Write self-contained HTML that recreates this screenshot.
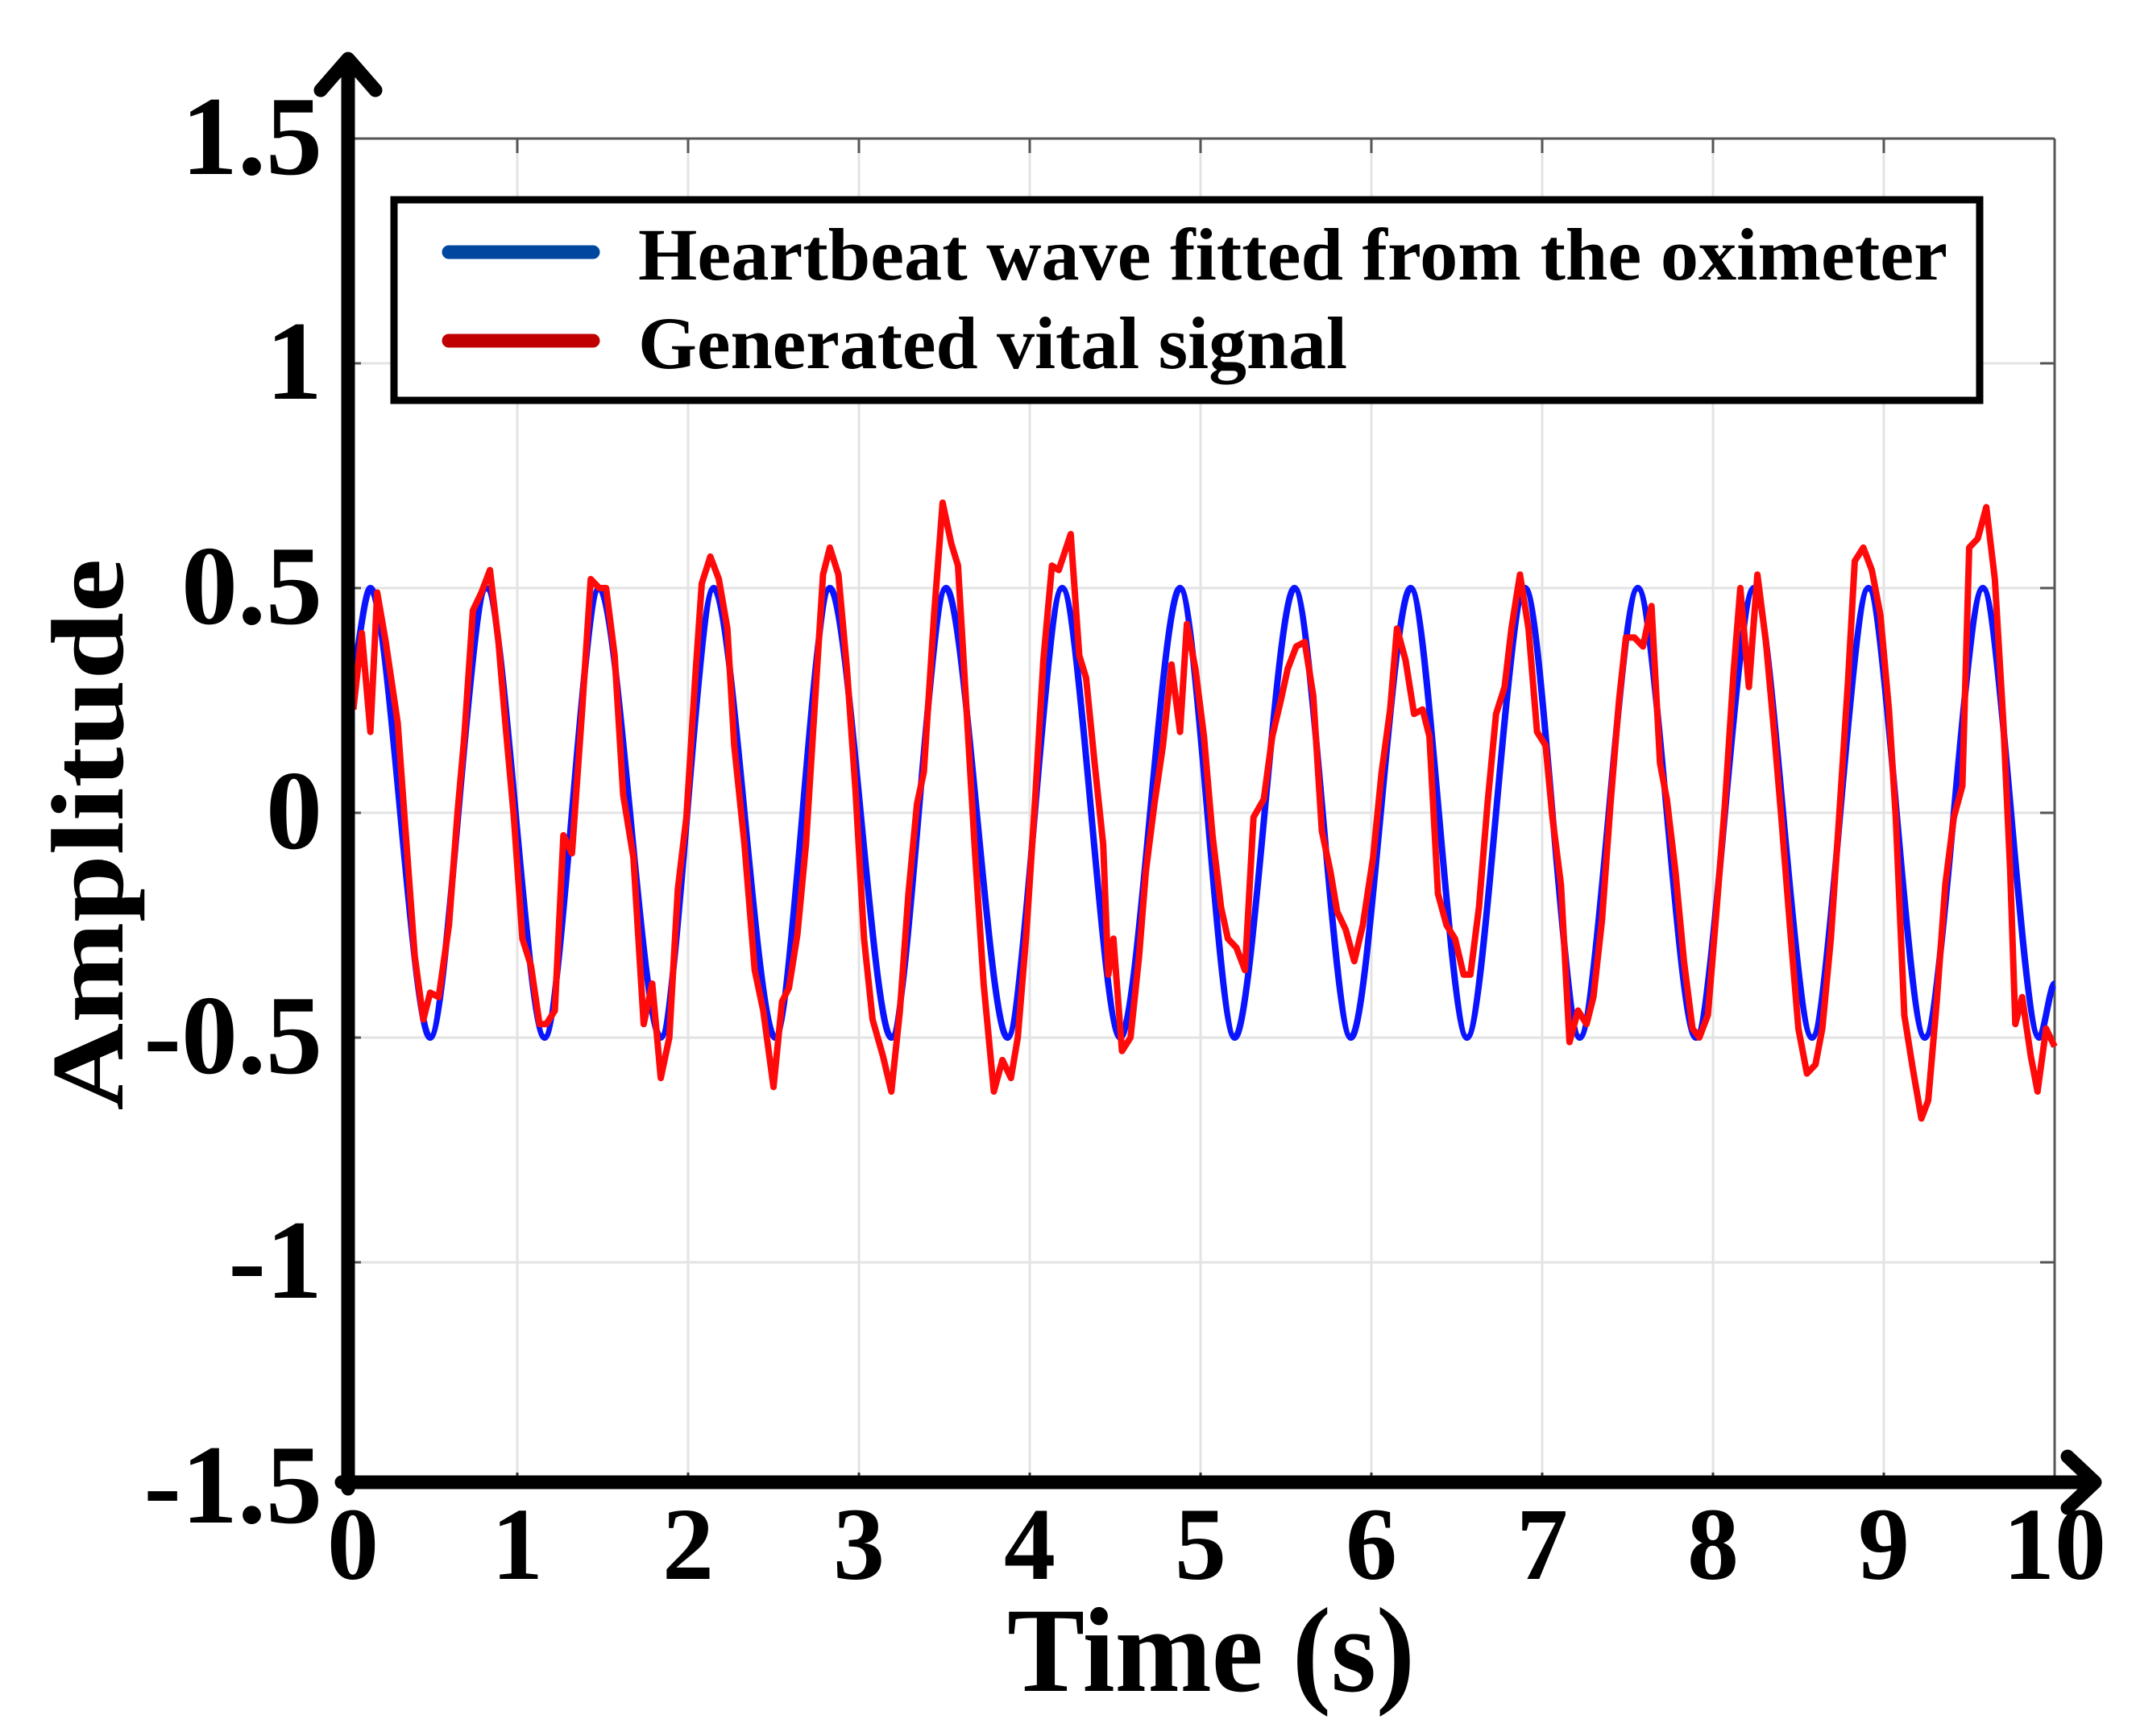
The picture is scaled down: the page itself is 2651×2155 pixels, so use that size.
<!DOCTYPE html>
<html><head><meta charset="utf-8"><style>
html,body{margin:0;padding:0;background:#fff;}
svg{display:block;}
text{font-family:"Liberation Serif",serif;font-weight:bold;fill:#000;}
</style></head><body>
<svg id="chart" width="2651" height="2155" viewBox="0 0 2651 2155" xmlns="http://www.w3.org/2000/svg">
<g id="grid"></g>
<g id="frame"></g>
<g id="series"></g>
<g id="axes"></g>
<g id="labels"></g>
<text transform="translate(152,1036) rotate(-90)" text-anchor="middle" font-size="128" textLength="685" lengthAdjust="spacingAndGlyphs">Amplitude</text>
<text x="1503" y="2099" text-anchor="middle" font-size="150" textLength="506" lengthAdjust="spacingAndGlyphs">Time (s)</text>
<g>
<rect x="489" y="248" width="1968" height="249" fill="#fff" stroke="#000" stroke-width="9"/>
<line x1="557" y1="313" x2="736" y2="313" stroke="#0047a0" stroke-width="17" stroke-linecap="round"/>
<text x="792" y="347" font-size="92" textLength="1625" lengthAdjust="spacingAndGlyphs">Heartbeat wave fitted from the oximeter</text>
<line x1="557" y1="423" x2="736" y2="423" stroke="#c00000" stroke-width="17" stroke-linecap="round"/>
<text x="792" y="457" font-size="92" textLength="880" lengthAdjust="spacingAndGlyphs">Generated vital signal</text>
</g>
</svg>
<script>
const xTicks=[0,1,2,3,4,5,6,7,8,9,10];
const yTicks=[1.5,1,0.5,0,-0.5,-1,-1.5];
const yTickLabels=["1.5","1","0.5","0","-0.5","-1","-1.5"];
const blueT=[0,0.14,0.49,0.82,1.16,1.48,1.84,2.15,2.51,2.83,3.19,3.51,3.87,4.19,4.53,4.88,5.20,5.55,5.88,6.23,6.56,6.90,7.22,7.56,7.90,8.24,8.58,8.91,9.24,9.58,9.91,10.0];
const blueV=[0.25,0.5,-0.5,0.5,-0.5,0.5,-0.5,0.5,-0.5,0.5,-0.5,0.5,-0.5,0.5,-0.5,0.5,-0.5,0.5,-0.5,0.5,-0.5,0.5,-0.5,0.5,-0.5,0.5,-0.5,0.5,-0.5,0.5,-0.5,-0.38];
const redT=[0.04,0.09,0.14,0.18,0.23,0.30,0.34,0.40,0.45,0.49,0.54,0.60,0.65,0.69,0.74,0.79,0.84,0.89,0.93,0.98,1.03,1.08,1.13,1.17,1.22,1.27,1.32,1.38,1.43,1.48,1.52,1.57,1.62,1.68,1.74,1.79,1.84,1.89,1.94,1.99,2.04,2.08,2.13,2.18,2.23,2.27,2.33,2.39,2.44,2.50,2.55,2.59,2.64,2.69,2.74,2.79,2.83,2.88,2.93,2.98,3.03,3.08,3.14,3.19,3.24,3.29,3.34,3.38,3.44,3.49,3.54,3.58,3.63,3.68,3.73,3.79,3.84,3.89,3.93,3.98,4.03,4.08,4.13,4.17,4.24,4.29,4.33,4.38,4.43,4.46,4.49,4.54,4.59,4.64,4.68,4.73,4.78,4.83,4.88,4.92,4.97,5.02,5.07,5.12,5.16,5.21,5.26,5.31,5.37,5.42,5.47,5.51,5.56,5.61,5.66,5.71,5.76,5.80,5.85,5.90,5.95,6.01,6.06,6.11,6.15,6.20,6.25,6.30,6.34,6.39,6.44,6.49,6.54,6.58,6.63,6.68,6.73,6.78,6.82,6.87,6.92,6.97,7.02,7.06,7.11,7.16,7.21,7.26,7.30,7.35,7.40,7.45,7.49,7.54,7.59,7.64,7.69,7.73,7.78,7.83,7.88,7.92,7.97,8.02,8.07,8.12,8.16,8.21,8.26,8.31,8.36,8.40,8.45,8.50,8.55,8.60,8.64,8.69,8.74,8.79,8.83,8.88,8.93,8.98,9.03,9.07,9.12,9.17,9.22,9.26,9.31,9.36,9.41,9.46,9.50,9.55,9.60,9.65,9.70,9.74,9.77,9.81,9.86,9.90,9.95,10.0];
const redV=[0.23,0.40,0.18,0.49,0.38,0.20,-0.01,-0.32,-0.46,-0.40,-0.41,-0.25,0.00,0.17,0.45,0.49,0.54,0.38,0.20,-0.01,-0.28,-0.34,-0.47,-0.47,-0.44,-0.05,-0.09,0.23,0.52,0.50,0.50,0.35,0.04,-0.10,-0.47,-0.38,-0.59,-0.50,-0.17,-0.01,0.29,0.51,0.57,0.52,0.41,0.15,-0.07,-0.35,-0.44,-0.61,-0.42,-0.39,-0.27,-0.07,0.23,0.53,0.59,0.53,0.32,0.05,-0.28,-0.46,-0.54,-0.62,-0.44,-0.18,0.02,0.09,0.44,0.69,0.60,0.55,0.23,-0.09,-0.38,-0.62,-0.55,-0.59,-0.50,-0.27,0.02,0.34,0.55,0.54,0.62,0.35,0.30,0.11,-0.07,-0.36,-0.28,-0.53,-0.50,-0.32,-0.13,0.02,0.15,0.33,0.18,0.42,0.32,0.17,-0.05,-0.21,-0.28,-0.30,-0.35,-0.01,0.03,0.17,0.25,0.32,0.37,0.38,0.26,-0.04,-0.13,-0.22,-0.26,-0.33,-0.25,-0.10,0.09,0.23,0.41,0.34,0.22,0.23,0.17,-0.18,-0.25,-0.28,-0.36,-0.36,-0.21,0.02,0.22,0.28,0.41,0.53,0.41,0.18,0.15,-0.01,-0.16,-0.51,-0.44,-0.47,-0.41,-0.24,0.02,0.25,0.39,0.39,0.37,0.46,0.11,0.03,-0.13,-0.33,-0.48,-0.50,-0.45,-0.22,0.02,0.31,0.50,0.28,0.53,0.38,0.17,-0.01,-0.25,-0.48,-0.58,-0.56,-0.48,-0.28,0.00,0.29,0.56,0.59,0.54,0.44,0.23,-0.01,-0.45,-0.57,-0.68,-0.64,-0.42,-0.16,-0.01,0.06,0.59,0.61,0.68,0.52,0.20,-0.13,-0.47,-0.41,-0.54,-0.62,-0.48,-0.52];

const X0=430,X1=2550,YT=172,YB=1846;
const sx=t=>X0+(t-0)/(10-0)*(X1-X0);
const sy=v=>YB-(v+1.5)/3*(YB-YT);
const NS='http://www.w3.org/2000/svg';
function mk(tag,parent,attrs){const e=document.createElementNS(NS,tag);for(const k in attrs)e.setAttribute(k,attrs[k]);parent.appendChild(e);return e;}
const gridG=document.getElementById('grid'),frameG=document.getElementById('frame'),seriesG=document.getElementById('series'),axesG=document.getElementById('axes'),labelsG=document.getElementById('labels');

xTicks.forEach(t=>{
  const g=mk('line',gridG,{x1:sx(t),y1:YT,x2:sx(t),y2:YB,stroke:'#e3e3e3','stroke-width':3});
  
  
  const tk=mk('line',frameG,{x1:sx(t),y1:YT,x2:sx(t),y2:YT+18,stroke:'#555','stroke-width':3});
  
  
  const tb=mk('line',frameG,{x1:sx(t),y1:YB-18,x2:sx(t),y2:YB,stroke:'#333','stroke-width':3});
  
  
  const lb=mk('text',labelsG,{x:sx(t)+(t===0?8:0),y:1960,'text-anchor':'middle','font-size':128});
  lb.textContent=String(t);
  
  
});
yTicks.forEach((v,i)=>{
  const g=mk('line',gridG,{x1:X0,y1:sy(v),x2:X1,y2:sy(v),stroke:'#e3e3e3','stroke-width':3});
  
  
  const tk=mk('line',frameG,{x1:X1-18,y1:sy(v),x2:X1,y2:sy(v),stroke:'#555','stroke-width':3});
  
  
  const tl=mk('line',frameG,{x1:X0,y1:sy(v),x2:X0+18,y2:sy(v),stroke:'#555','stroke-width':3});
  
  
  const lb=mk('text',labelsG,{x:400,y:sy(v)+44,'text-anchor':'end','font-size':140});
  lb.textContent=yTickLabels[i];
  
  
});
const topBorder=mk('line',frameG,{x1:X0,y1:YT,x2:X1,y2:YT,stroke:'#555','stroke-width':3});


const rightBorder=mk('line',frameG,{x1:X1,y1:YT,x2:X1,y2:YB,stroke:'#555','stroke-width':3});



let d='M'+sx(blueT[0])+' '+sy(blueV[0]);
for(let i=1;i<blueT.length;i++){
  const xa=sx(blueT[i-1]),ya=sy(blueV[i-1]),xb=sx(blueT[i]),yb=sy(blueV[i]);
  const dx=(xb-xa)*0.3;
  d+=' C'+(xa+dx)+' '+ya+' '+(xb-dx)+' '+yb+' '+xb+' '+yb;
}
const blueLine=mk('path',seriesG,{d:d,fill:'none',stroke:'#0a14ff','stroke-width':8,'stroke-linejoin':'round'});



const n=Math.min(redT.length,redV.length);
let pts=[];
for(let i=0;i<n;i++)pts.push(sx(redT[i])+','+sy(redV[i]));
const redLine=mk('polyline',seriesG,{points:pts.join(' '),fill:'none',stroke:'#ff0a0a','stroke-width':8,'stroke-linejoin':'round'});



const yAxisArrow=mk('path',axesG,{d:'M432 1848 L432 75 M398 112 L432 73 L466 112',fill:'none',stroke:'#000','stroke-width':17,'stroke-linecap':'round','stroke-linejoin':'round'});


const xAxisArrow=mk('path',axesG,{d:'M424 1840 L2596 1840 M2566 1808 L2600 1840 L2566 1872',fill:'none',stroke:'#000','stroke-width':17,'stroke-linecap':'round','stroke-linejoin':'round'});


</script>
</body></html>
